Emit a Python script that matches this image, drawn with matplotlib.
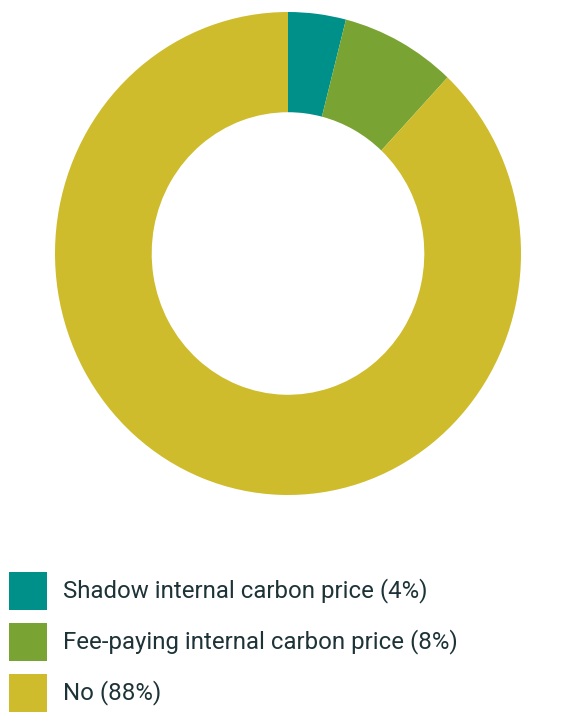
import matplotlib.pyplot as plt
from matplotlib.patches import Rectangle

# data
labels = ["Shadow internal carbon price", "Fee-paying internal carbon price", "No"]
shares = [4, 8, 88]
colors = ["#00908A", "#79A332", "#CEBC2C"]

W, H = 567, 713
fig = plt.figure(figsize=(W / 100, H / 100), dpi=100)

# donut area in pixels (left, top, right, bottom)
x0, y0, x1, y1 = 55, 12, 521, 495
ax = fig.add_axes([x0 / W, (H - y1) / H, (x1 - x0) / W, (y1 - y0) / H])
ax.pie(shares, colors=colors, startangle=90, counterclock=False, radius=1.0,
       wedgeprops=dict(width=0.415, linewidth=0))
ax.set_aspect("auto")
ax.set_xlim(-1, 1)
ax.set_ylim(-1, 1)
ax.axis("off")

# legend, drawn by hand
row_y = [591, 642, 693]
box = 38
for lab, val, col, yc in zip(labels, shares, colors, row_y):
    fig.patches.append(Rectangle((9 / W, (H - yc - box / 2) / H), box / W, box / H,
                                 transform=fig.transFigure, facecolor=col, edgecolor="none"))
    fig.text(63 / W, (H - yc) / H, f"{lab} ({val}%)", fontsize=17.3, family="Roboto",
             color="#1E3338", va="center", ha="left")

fig.savefig("out.png", dpi=100)
